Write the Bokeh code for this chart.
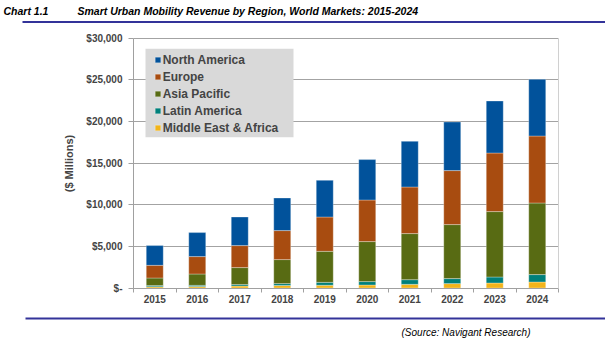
from bokeh.plotting import figure
from bokeh.models import (ColumnDataSource, Range1d, FixedTicker, Legend, LegendItem,
                          BoxAnnotation, Label, LinearAxis, Grid)
from bokeh.embed import file_html
from bokeh.resources import INLINE

# ---------------- data ----------------
years = [2015, 2016, 2017, 2018, 2019, 2020, 2021, 2022, 2023, 2024]
year_labels = ["2015", "2016", "2017", "2018", "2019", "2020", "2021", "2022", "2023", "2024"]
north_america = [2370, 2880, 3430, 3910, 4400, 4850, 5480, 5830, 6240, 6800]
europe = [1520, 2090, 2640, 3480, 4120, 4990, 5590, 6480, 7030, 8040]
asia_pacific = [910, 1360, 2040, 2880, 3720, 4800, 5530, 6480, 7850, 8590]
latin_america = [140, 150, 170, 230, 350, 410, 560, 600, 720, 890]
middle_east_africa = [150, 170, 240, 300, 330, 360, 440, 530, 600, 720]
series_names = ["North America", "Europe", "Asia Pacific", "Latin America", "Middle East & Africa"]
y_ticks = [0, 5000, 10000, 15000, 20000, 25000, 30000]
y_tick_labels = ["$-", "$5,000", "$10,000", "$15,000", "$20,000", "$25,000", "$30,000"]

title_text = "Smart Urban Mobility Revenue by Region, World Markets: 2015-2024"
chart_no = "Chart 1.1"
source_text = "(Source: Navigant Research)"

# ---------------- styles / geometry ----------------
FONT = "Liberation Sans"
RULE = "#333399"
W, H = 605, 338
colors = {
    "North America": "#01529B",
    "Europe": "#A84C10",
    "Asia Pacific": "#586B13",
    "Latin America": "#00807B",
    "Middle East & Africa": "#F2B41A",
}
# plot area in canvas pixels
PL, PR, PT, PB = 133, 558, 37.5, 287.5
x0, x1 = years[0] - 0.5, years[-1] + 0.5
y0, y1 = y_ticks[0], y_ticks[-1]
xs = (x1 - x0) / (PR - PL)
ys = (y1 - y0) / (PB - PT)
x_range = Range1d(x0 - PL * xs, x1 + (W - PR) * xs)
y_range = Range1d(y0 - (H - PB) * ys, y1 + PT * ys)

source = ColumnDataSource(data=dict(
    year=years,
    na=north_america,
    eu=europe,
    ap=asia_pacific,
    la=latin_america,
    me=middle_east_africa,
))

p = figure(width=W, height=H, x_range=x_range, y_range=y_range,
           output_backend="svg", toolbar_location=None,
           x_axis_type=None, y_axis_type=None, min_border=0,
           outline_line_color=None)
p.ygrid.visible = False
p.xgrid.visible = False

stack_keys = ["me", "la", "ap", "eu", "na"]
stack_names = ["Middle East & Africa", "Latin America", "Asia Pacific", "Europe", "North America"]

# y axis (fixed at left edge of plot area)
yaxis = LinearAxis(fixed_location=x0, bounds=(y0, y1), ticker=FixedTicker(ticks=y_ticks))
yaxis.major_label_overrides = dict(zip(y_ticks, y_tick_labels))
yaxis.axis_label = "($ Millions)"
yaxis.axis_label_text_font = FONT
yaxis.axis_label_text_font_style = "bold"
yaxis.axis_label_text_font_size = "11px"
yaxis.axis_label_standoff = 8
yaxis.major_label_text_font = FONT
yaxis.major_label_text_font_style = "bold"
yaxis.major_label_text_font_size = "10px"
yaxis.major_label_standoff = 6
yaxis.major_tick_out = 5
yaxis.major_tick_in = 0
yaxis.minor_tick_out = 0
yaxis.minor_tick_in = 0
yaxis.axis_line_color = "#a0a0a0"
yaxis.major_tick_line_color = "#a0a0a0"
p.add_layout(yaxis, "left")

ygrid = Grid(dimension=1, ticker=FixedTicker(ticks=y_ticks), cross_bounds=(x0, x1),
             grid_line_color="#a3a3a3", grid_line_width=1.2)
p.add_layout(ygrid)

# right border of plot area
raxis = LinearAxis(fixed_location=x1, bounds=(y0, y1), ticker=FixedTicker(ticks=[]),
                   axis_line_color="#d0d0d0", major_tick_out=0, minor_tick_out=0)
p.add_layout(raxis, "right")

# x axis (fixed at y = 0)
minor = [y - 0.5 for y in years] + [years[-1] + 0.5]
xaxis = LinearAxis(fixed_location=y0, bounds=(x0, x1),
                   ticker=FixedTicker(ticks=years, minor_ticks=minor))
xaxis.major_label_overrides = dict(zip(years, year_labels))
xaxis.major_label_text_font = FONT
xaxis.major_label_text_font_style = "bold"
xaxis.major_label_text_font_size = "10px"
xaxis.major_label_standoff = 3
xaxis.major_tick_out = 0
xaxis.major_tick_in = 0
xaxis.minor_tick_out = 4
xaxis.minor_tick_in = 0
xaxis.axis_line_color = "#a0a0a0"
xaxis.minor_tick_line_color = "#a0a0a0"
p.add_layout(xaxis, "below")

rs = p.vbar_stack(stack_keys, x="year", width=0.4, source=source,
                  fill_color=[colors[n] for n in stack_names],
                  line_color="white", line_alpha=0.3, line_width=1)
by_name = dict(zip(stack_names, rs))

# legend background box
box = BoxAnnotation(left=145, right=293, top=H - 48.3, bottom=H - 136.7,
                    left_units="screen", right_units="screen",
                    top_units="screen", bottom_units="screen",
                    fill_color="#d9d9d9", fill_alpha=1, line_color=None)
p.add_layout(box)

items = [LegendItem(label=n, renderers=[by_name[n]]) for n in series_names]
legend = Legend(items=items, location=(153.7, H - 45.2 - 91), padding=3, spacing=0, label_height=17,
                glyph_height=7, glyph_width=7, label_standoff=2, margin=0,
                background_fill_alpha=0, border_line_color=None,
                label_text_font=FONT, label_text_font_style="bold", label_text_font_size="12px")
p.add_layout(legend)

# ---------------- header / footer ----------------
for (l, r, t, b) in [(22, 605, 20.5, 22.5), (25, 605, 317, 319)]:
    p.add_layout(BoxAnnotation(left=l, right=r, top=H - t, bottom=H - b,
                               left_units="screen", right_units="screen",
                               top_units="screen", bottom_units="screen",
                               fill_color=RULE, fill_alpha=1, line_color=None))

p.add_layout(Label(x=3, y=H - 10.5, x_units="screen", y_units="screen", text=chart_no,
                   text_font=FONT, text_font_size="10.5px", text_font_style="bold italic",
                   text_baseline="middle", text_color="#000000"))
p.add_layout(Label(x=77, y=H - 10.5, x_units="screen", y_units="screen", text=title_text,
                   text_font=FONT, text_font_size="10.5px", text_font_style="bold italic",
                   text_baseline="middle", text_color="#000000"))
p.add_layout(Label(x=465.5, y=H - 331.5, x_units="screen", y_units="screen", text=source_text,
                   text_font=FONT, text_font_size="10px", text_font_style="italic",
                   text_align="center", text_baseline="middle", text_color="#000000"))

open("out.html", "w").write(file_html(p, INLINE))
